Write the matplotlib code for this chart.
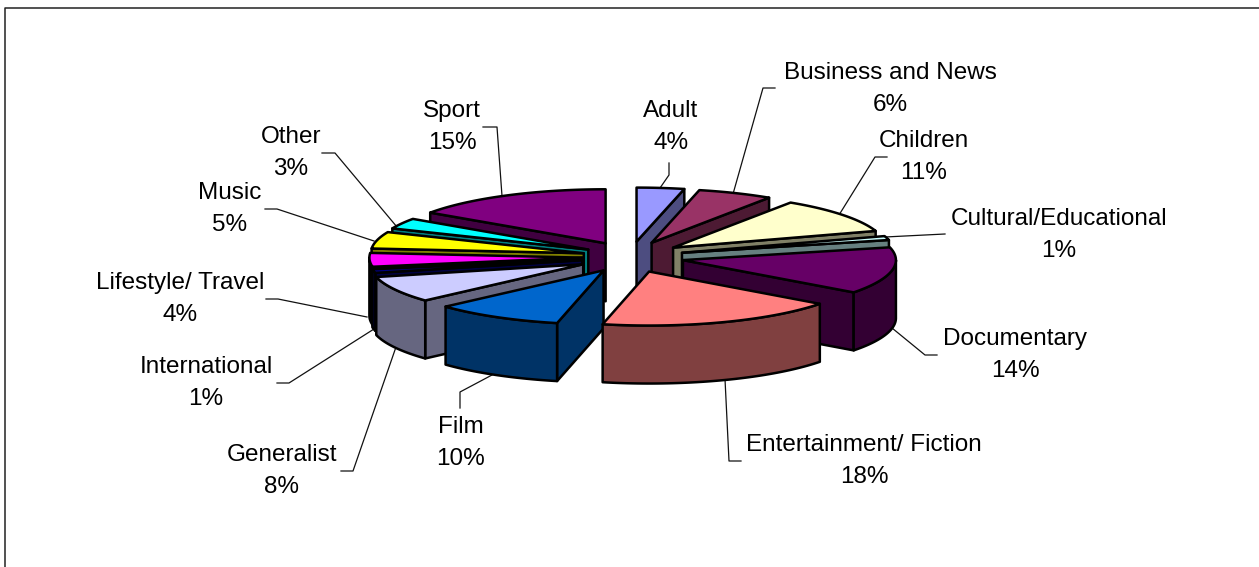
#!/usr/bin/env python3
"""Exploded 3D pie of channel genres, Excel look. Coordinates are image pixels."""
import matplotlib
matplotlib.use('Agg')
import matplotlib.pyplot as plt
from matplotlib.patches import Polygon
import numpy as np

plt.rcParams['font.family'] = ['Liberation Sans', 'DejaVu Sans']

# ─── DATA ────────────────────────────────────────────────────────────────────
genres = ['Adult', 'Business and News', 'Children', 'Cultural/Educational', 'Documentary',
          'Entertainment/ Fiction', 'Film', 'Generalist', 'International',
          'Lifestyle/ Travel', 'Music', 'Other', 'Sport']
shares = [3.6, 5.7, 10.7, 1.2, 14.0, 18.3, 9.8, 7.9, 1.1, 4.1, 5.0, 3.2, 15.4]

# ─── STYLE ───────────────────────────────────────────────────────────────────
tops = ['#9999ff', '#993366', '#ffffcc', '#ccffff', '#660066', '#ff8080', '#0066cc',
        '#ccccff', '#000080', '#ff00ff', '#ffff00', '#00ffff', '#800080']
walls = ['#4d4d80', '#4d1a33', '#808066', '#668080', '#330033', '#804040', '#003366',
         '#666680', '#000040', '#000000', '#808000', '#008080', '#400040']
explode_scale = [1, 1, 1, 1, 1, 1, 1, 1, 0.92, 0.9, 0.9, 0.9, 1]

CX, CY = 630.5, 257      # pie centre
RX, RY = 213, 54         # ellipse of one slice
DEPTH = 58
EXPLODE_X, EXPLODE_Y = 53.5, 15.5
LW = 1.8
FS = 17.5

# label centre x, first baseline y
label_pos = [(671, 117), (890, 79), (924, 147), (1059, 225), (1015, 345), (864, 451),
             (461, 433), (282, 461), (206, 373), (180, 289), (230, 199), (291, 143), (452, 117)]
leaders = [
    [(669, 163), (669, 175), (660, 188)],
    [(775, 88), (763, 88), (733, 194)],
    [(887, 157), (875, 157), (839, 215)],
    [(945, 234), (885, 237)],
    [(892, 328), (925, 355), (937, 355)],
    [(725, 379), (729, 461), (741, 461)],
    [(460, 408), (460, 392), (492, 375)],
    [(341, 471), (353, 471), (396, 347)],
    [(277, 383), (289, 383), (374, 329)],
    [(266, 299), (278, 299), (367, 317)],
    [(265, 209), (277, 209), (374, 241)],
    [(322, 153), (335, 153), (397, 227)],
    [(483, 127), (497, 127), (502, 196)],
]

# ─── FIGURE ──────────────────────────────────────────────────────────────────
fig = plt.figure(figsize=(12.59, 5.67), dpi=100, facecolor='white')
ax = fig.add_axes([0, 0, 1, 1])
ax.set_xlim(0, 1259)
ax.set_ylim(567, 0)
ax.axis('off')

# chart frame: only left and top fall inside the picture
ax.plot([5.5, 5.5, 1259], [567, 7.5, 7.5], color='#222222', lw=1.1, zorder=1)

edges = 360 * np.cumsum([0] + shares) / sum(shares)


def rim(apex, deg):
    t = np.radians(deg)
    return np.column_stack([apex[0] + RX * np.sin(t), apex[1] - RY * np.cos(t)])


def face(pts, color, z):
    ax.add_patch(Polygon(pts, closed=True, facecolor=color, edgecolor='black',
                         linewidth=LW, joinstyle='round', zorder=z))


def draw_slice(i, z):
    t1, t2 = edges[i], edges[i + 1]
    mid = np.radians((t1 + t2) / 2)
    s = explode_scale[i]
    apex = (CX + s * EXPLODE_X * np.sin(mid), CY - EXPLODE_Y * np.cos(mid))
    down = np.array([0, DEPTH])
    a = np.array(apex)
    # cut faces
    if t1 > 180:
        p = rim(apex, [t1])[0]
        face([a, p, p + down, a + down], walls[i], z)
    if t2 < 180:
        p = rim(apex, [t2])[0]
        face([a, p, p + down, a + down], walls[i], z)
    # outer wall
    lo, hi = max(t1, 90), min(t2, 270)
    if hi > lo:
        arc = rim(apex, np.linspace(lo, hi, 50))
        face(np.vstack([arc, (arc + down)[::-1]]), walls[i], z + 0.1)
    # top
    arc = rim(apex, np.linspace(t1, t2, 50))
    face(np.vstack([[a], arc]), tops[i], z + 0.2)


# back to front
draw_order = [0, 1, 2, 3, 4, 12, 11, 10, 9, 8, 7, 6, 5]
for k, i in enumerate(draw_order):
    draw_slice(i, 3 + k)

# ─── LABELS ──────────────────────────────────────────────────────────────────
for i, name in enumerate(genres):
    x, y = label_pos[i]
    ax.text(x, y, name, fontsize=FS, color='black', ha='center', va='baseline', zorder=30)
    ax.text(x, y + 32, f'{round(shares[i])}%', fontsize=FS, color='black',
            ha='center', va='baseline', zorder=30)
    pts = np.array(leaders[i])
    ax.plot(pts[:, 0], pts[:, 1], color='#111111', lw=0.9, zorder=2)

fig.savefig('out.png', dpi=100, facecolor='white')
